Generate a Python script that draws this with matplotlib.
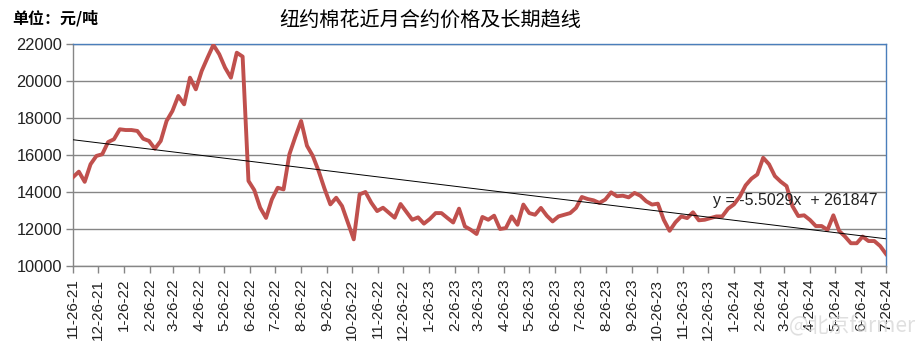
import matplotlib
matplotlib.use("Agg")
import matplotlib.pyplot as plt
import pandas as pd
import numpy as np

plt.rcParams['font.family'] = ['Liberation Sans', 'Noto Sans CJK SC', 'DejaVu Sans']

# weekly readings of the front-month NY cotton price (yuan/ton), starting 2021-11-26
start_date = '2021-11-26'
prices = [
    14800, 15100, 14550, 15500, 15950, 16040, 16700, 16850, 17390, 17350,
    17350, 17300, 16880, 16760, 16340, 16760, 17840, 18380, 19190, 18740,
    20180, 19550, 20540, 21260, 21950, 21450, 20720, 20180, 21530, 21320,
    14600, 14100, 13150, 12600, 13600, 14230, 14140, 16040, 16970, 17840,
    16500, 15950, 15130, 14180, 13330, 13690, 13240, 12340, 11440, 13870,
    14000, 13420, 12970, 13150, 12880, 12610, 13350, 12920, 12500, 12630,
    12290, 12540, 12860, 12860, 12600, 12350, 13100, 12140, 11960, 11730,
    12650, 12500, 12720, 12000, 12050, 12680, 12230, 13320, 12860, 12770,
    13140, 12720, 12410, 12680, 12770, 12860, 13140, 13730, 13620, 13550,
    13410, 13590, 13980, 13770, 13800, 13710, 13950, 13800, 13500, 13320,
    13370, 12500, 11900, 12360, 12680, 12590, 12900, 12470, 12500, 12590,
    12680, 12680, 13100, 13330, 13750, 14360, 14720, 14950, 15850, 15500,
    14860, 14560, 14320, 13240, 12700, 12740, 12490, 12160, 12160, 11950,
    12740, 11890, 11590, 11230, 11230, 11590, 11350, 11350, 11080, 10650,
]
dates = pd.date_range(start_date, periods=len(prices), freq='7D')

# Excel linear trend, x = Excel date serial
trend_slope = -5.5029
trend_intercept = 261847
trend_label = 'y = -5.5029x  + 261847'

month_ticks = pd.date_range('2021-11-26', '2024-07-26', freq=pd.DateOffset(months=1))
y_ticks = [10000, 12000, 14000, 16000, 18000, 20000, 22000]

title = '纽约棉花近月合约价格及长期趋线'
unit = '单位：元/吨'

fig = plt.figure(figsize=(9.18, 3.51), dpi=100)
ax = fig.add_axes([73 / 918, 1 - 266 / 351, 813 / 918, 222 / 351])

ax.plot(dates, prices, color='#C0504D', linewidth=2.8, solid_joinstyle='round', zorder=3)

excel_serial = (dates - pd.Timestamp('1899-12-30')).days.values
trend = trend_slope * excel_serial + trend_intercept
ax.plot(dates, trend, color='black', linewidth=0.7, zorder=4)

ax.set_xlim(month_ticks[0], month_ticks[-1])
ax.set_ylim(10000, 22000)
ax.set_yticks(y_ticks)
ax.set_yticklabels([str(v) for v in y_ticks])
ax.set_xticks(month_ticks)
ax.set_xticklabels([f'{d.month}-{d.day}-{d.year % 100:02d}' for d in month_ticks],
                   rotation=90, va='top', ha='center')

ax.grid(axis='y', color='#868686', linewidth=1.0)
ax.set_axisbelow(True)
for side in ['top', 'right']:
    ax.spines[side].set_color('#4A7EBB')
    ax.spines[side].set_linewidth(1.0)
for side in ['left', 'bottom']:
    ax.spines[side].set_color('#868686')
    ax.spines[side].set_linewidth(1.0)
ax.tick_params(axis='both', direction='out', length=5, width=1, color='#868686',
               labelcolor='#222222')
ax.tick_params(axis='y', pad=3, labelsize=11.8)
ax.tick_params(axis='x', pad=4, labelsize=11)

ax.text(0.787, 0.293, trend_label, transform=ax.transAxes, fontsize=11.5,
        color='#222222', ha='left', va='center', zorder=5)

fig.text(430 / 918, 1 - 20 / 351, title, fontsize=14.5, ha='center', va='center',
         family=['Noto Sans CJK SC', 'DejaVu Sans'])
fig.text(12 / 918, 1 - 18 / 351, unit, fontsize=11.5, fontweight='bold', ha='left',
         va='center', family=['Noto Sans CJK SC', 'DejaVu Sans'])

fig.text(852 / 918, 1 - 326 / 351, '@北京farmer', fontsize=15, ha='center', va='center',
         color='#d8d8d8', alpha=0.8, family=['Noto Sans CJK SC', 'DejaVu Sans'])

fig.savefig('out.png', dpi=100)
